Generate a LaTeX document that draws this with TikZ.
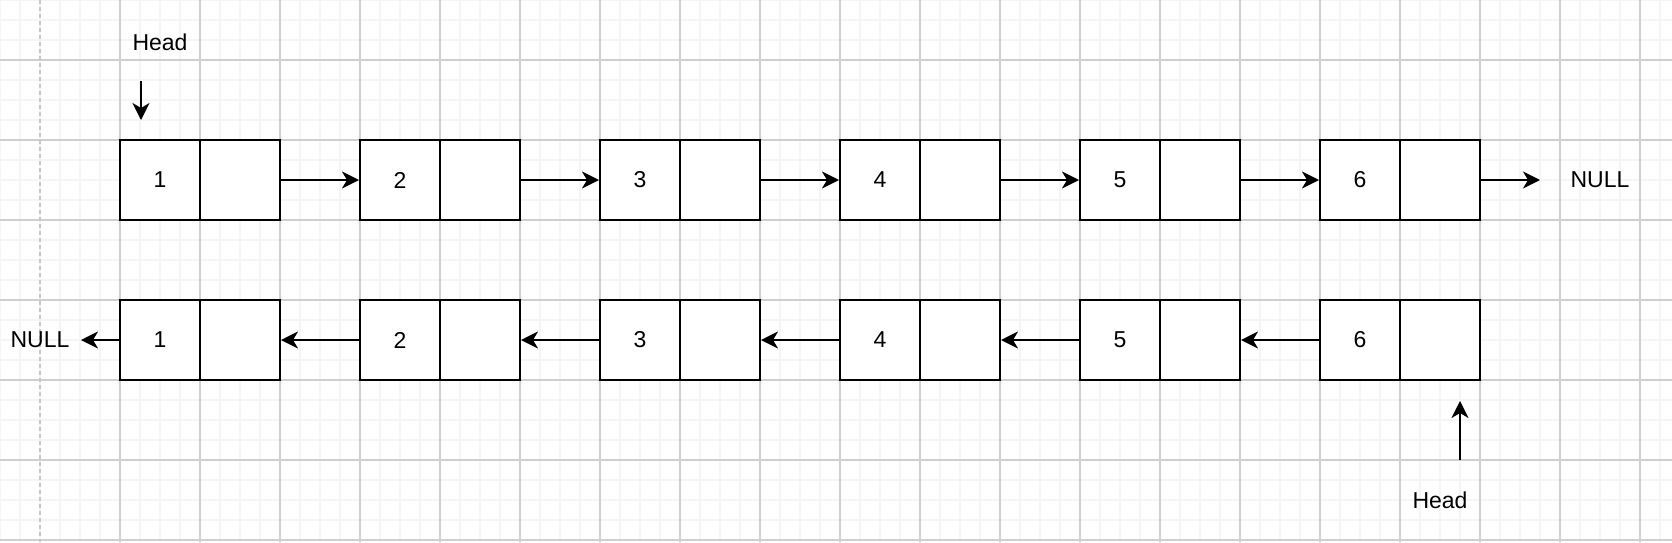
\documentclass[tikz,border=0pt]{standalone}
\usepackage{fontspec}
\setmainfont{Liberation Sans}
\usetikzlibrary{arrows.meta}
\begin{document}
\begin{tikzpicture}[x=0.5pt,y=-0.5pt,
  txt/.style={font=\fontsize{11.5pt}{13pt}\selectfont},
  cell/.style={draw, line width=1pt, fill=white, minimum width=40pt, minimum height=40pt, inner sep=0pt, txt},
  lbl/.style={inner sep=0pt, txt},
  arr/.style={line width=1pt, -{Stealth[length=8.5pt,width=8.5pt,inset=2.5pt]}},
  minorline/.style={draw=black!4, line width=0.8pt},
  majorline/.style={draw=black!19, line width=0.6pt},
  pageline/.style={draw=black!22, line width=1pt, dash pattern=on 2pt off 1.5pt}]
\useasboundingbox[fill=white] (0,0) rectangle (1672,542);
% grid
\foreach \x in {0,20,...,1660} \draw[minorline] (\x,0) -- (\x,542);
\foreach \y in {0,20,...,540} \draw[minorline] (0,\y) -- (1672,\y);
\foreach \x in {120,200,...,1640} \draw[majorline] (\x,0) -- (\x,542);
\foreach \y in {60,140,...,540} \draw[majorline] (0,\y) -- (1672,\y);
\draw[pageline] (40,0) -- (40,542);
% list nodes
\foreach \i [evaluate=\i as \xv using 160+240*(\i-1), evaluate=\i as \xp using 240+240*(\i-1)] in {1,...,6} {
  \node[cell] (t\i v) at (\xv,180) {\i};
  \node[cell] (t\i p) at (\xp,180) {};
  \node[cell] (b\i v) at (\xv,340) {\i};
  \node[cell] (b\i p) at (\xp,340) {};
}
\foreach \i [evaluate=\i as \j using int(\i+1)] in {1,...,5} {
  \draw[arr] (t\i p.east) -- (t\j v.west);
  \draw[arr] (b\j v.west) -- (b\i p.east);
}
% NULL ends
\node[lbl] (tnull) at (1600,180) {NULL};
\coordinate (tnullend) at (1540,180);
\draw[arr] (t6p.east) -- (tnullend);
\node[lbl] (bnull) at (40,340) {NULL};
\coordinate (bnullend) at (81,340);
\draw[arr] (b1v.west) -- (bnullend);
% heads
\node[lbl] (thead) at (160,42) {Head};
\coordinate (theadstart) at (141,81);
\coordinate (theadend) at (141,120);
\draw[arr] (theadstart) -- (theadend);
\node[lbl] (bhead) at (1440,500) {Head};
\coordinate (bheadstart) at (1460,460);
\coordinate (bheadend) at (1460,401);
\draw[arr] (bheadstart) -- (bheadend);
\end{tikzpicture}
\end{document}
